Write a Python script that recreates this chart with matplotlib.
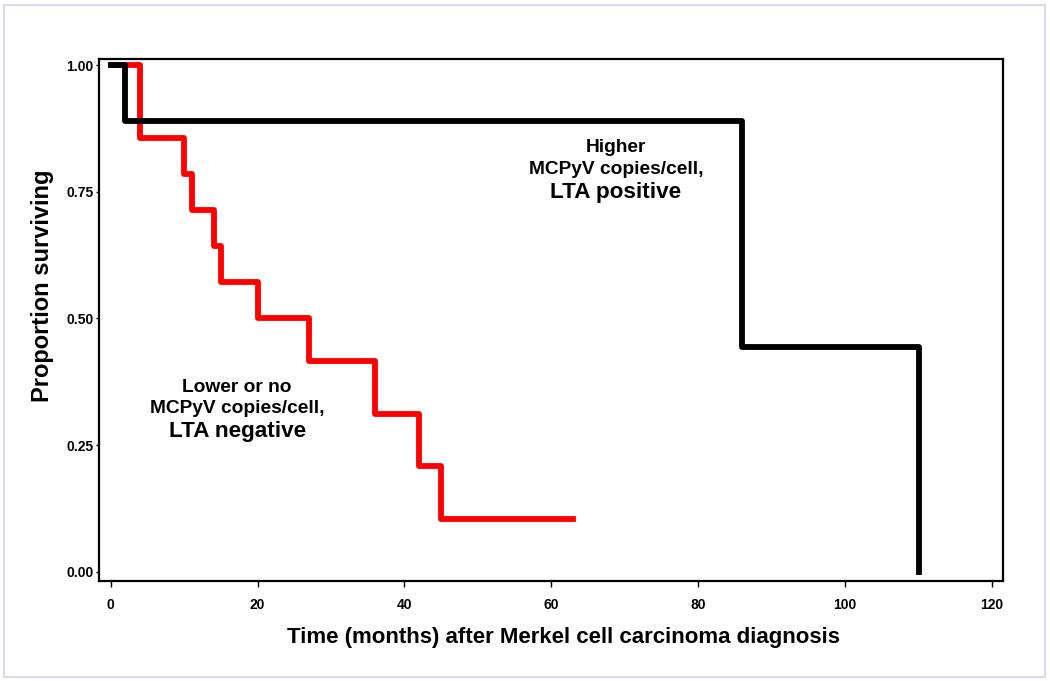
import matplotlib
matplotlib.use('Agg')
import matplotlib.pyplot as plt
from matplotlib.patches import Rectangle

plt.rcParams['font.family'] = ['Liberation Sans', 'DejaVu Sans']
plt.rcParams['font.weight'] = 'bold'

# Kaplan-Meier steps
lowTimes = [0, 4, 10, 11, 14, 15, 20, 27, 36, 42, 45, 63]
lowSurv = [1.0, 0.857, 0.786, 0.714, 0.643, 0.571, 0.5, 0.417, 0.3125, 0.208, 0.104, 0.104]
highTimes = [0, 2, 86, 110]
highSurv = [1.0, 0.889, 0.444, 0.0]

xticks = [0, 20, 40, 60, 80, 100, 120]
yticks = [0.0, 0.25, 0.5, 0.75, 1.0]
ytickLabels = ['0.00', '0.25', '0.50', '0.75', '1.00']

fig = plt.figure(figsize=(10.5, 6.81), dpi=100)
ax = fig.add_axes([0.0943, 0.1468, 0.8609, 0.7666])

ax.plot(lowTimes, lowSurv, drawstyle='steps-post', color='#ff0000', lw=4.2, zorder=2)
ax.plot(highTimes, highSurv, drawstyle='steps-post', color='black', lw=4.2, zorder=3)

ax.set_xlim(-1.6, 121.5)
ax.set_ylim(-0.018, 1.012)
ax.set_xticks(xticks, [str(t) for t in xticks], fontsize=10)
ax.set_yticks(yticks, ytickLabels, fontsize=10)
ax.tick_params(axis='x', direction='out', length=4, width=1, pad=8)
ax.tick_params(axis='y', direction='out', length=2.5, width=1, pad=1.5)
for s in ax.spines.values():
    s.set_linewidth(1.6)

ax.set_xlabel('Time (months) after Merkel cell carcinoma diagnosis', fontsize=16, fontweight='bold', va='center')
ax.xaxis.set_label_coords(0.514, -0.109)
ax.set_ylabel('Proportion surviving', fontsize=17, fontweight='bold', va='center')
ax.yaxis.set_label_coords(-0.062, 0.565)

ax.text(68.8, 0.8285, 'Higher', ha='center', va='baseline', fontsize=13.8, fontweight='bold')
ax.text(68.8, 0.785, 'MCPyV copies/cell,', ha='center', va='baseline', fontsize=13.8, fontweight='bold')
ax.text(68.8, 0.7377, 'LTA positive', ha='center', va='baseline', fontsize=16.2, fontweight='bold')
ax.text(17.2, 0.355, 'Lower or no', ha='center', va='baseline', fontsize=13.8, fontweight='bold')
ax.text(17.2, 0.3135, 'MCPyV copies/cell,', ha='center', va='baseline', fontsize=13.8, fontweight='bold')
ax.text(17.2, 0.266, 'LTA negative', ha='center', va='baseline', fontsize=16.2, fontweight='bold')

# light frame around the figure
fig.patches.append(Rectangle((0.004, 0.006), 0.991, 0.986, transform=fig.transFigure,
                             fill=False, edgecolor='#dcdcf0', lw=1.5))

fig.savefig('out.png', dpi=100)
